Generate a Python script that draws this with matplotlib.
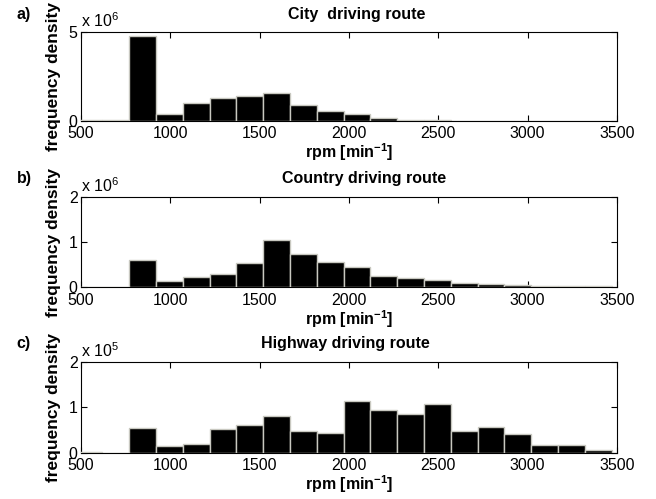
import numpy as np
import matplotlib.pyplot as plt

plt.rcParams['font.family'] = ['Liberation Sans', 'DejaVu Sans']
plt.rcParams['mathtext.fontset'] = 'custom'
plt.rcParams['mathtext.rm'] = 'Liberation Sans'
plt.rcParams['mathtext.bf'] = 'Liberation Sans:bold'

# bin centres (rpm), 20 bins of 150 rpm
rpm = np.arange(545, 3400, 150)
bin_w = 150

# frequency density per bin
city = [0.07e6, 0.07e6, 4.76e6, 0.38e6, 0.98e6, 1.29e6, 1.39e6, 1.54e6, 0.90e6, 0.55e6,
        0.38e6, 0.17e6, 0.05e6, 0.02e6, 0, 0, 0, 0, 0, 0]
country = [0.01e6, 0.01e6, 0.60e6, 0.15e6, 0.22e6, 0.29e6, 0.53e6, 1.04e6, 0.74e6, 0.55e6,
           0.45e6, 0.26e6, 0.20e6, 0.16e6, 0.10e6, 0.074e6, 0.05e6, 0.037e6, 0.037e6, 0.02e6]
highway = [0.015e5, 0, 0.54e5, 0.15e5, 0.20e5, 0.51e5, 0.60e5, 0.80e5, 0.47e5, 0.43e5,
           1.13e5, 0.93e5, 0.86e5, 1.08e5, 0.47e5, 0.57e5, 0.42e5, 0.18e5, 0.16e5, 0.07e5]

titles = ["City  driving route", "Country driving route", "Highway driving route"]
panels = ["a)", "b)", "c)"]
series = [city, country, highway]
exps = [6, 6, 5]
ymax = [5, 2, 2]
yticks = [[0, 5], [0, 1, 2], [0, 1, 2]]
title_x = [0.515, 0.528, 0.494]

fig = plt.figure(figsize=(6.56, 4.99), dpi=100)
bottoms = [0.758, 0.4242, 0.0928]
heights = [0.178, 0.1816, 0.1824]

for i in range(3):
    ax = fig.add_axes([0.1235, bottoms[i], 0.817, heights[i]])
    vals = np.array(series[i]) / 10**exps[i]
    ax.bar(rpm, vals, width=bin_w, color='black', edgecolor='#c8c8c0',
           linewidth=1.0, zorder=3)
    ax.set_xlim(500, 3500)
    ax.set_ylim(0, ymax[i])
    ax.set_xticks(np.arange(500, 3501, 500))
    ax.set_yticks(yticks[i])
    ax.tick_params(direction='in', top=True, right=True, length=4, labelsize=11.5)
    ax.tick_params(axis='x', pad=4)
    ax.tick_params(axis='y', pad=2.5)
    for s in ax.spines.values():
        s.set_linewidth(0.8)
    ax.text(0.0, 1.02, r'x 10$^{%d}$' % exps[i], transform=ax.transAxes,
            fontsize=11.5, ha='left', va='bottom')
    ax.text(title_x[i], 1.2, titles[i], transform=ax.transAxes,
            fontsize=11.5, fontweight='bold', ha='center', va='center')
    ax.set_xlabel(r'rpm [min$^{\mathbf{-1}}$]', fontsize=11.5, fontweight='bold', labelpad=0)
    ax.set_ylabel('frequency density', fontsize=12.5, fontweight='bold')
    ax.yaxis.set_label_coords(-0.037, 0.5)
    ax.text(-0.12, 1.2, panels[i], transform=ax.transAxes,
            fontsize=11.5, fontweight='bold', ha='left', va='center')

fig.savefig('out.png', dpi=100)
